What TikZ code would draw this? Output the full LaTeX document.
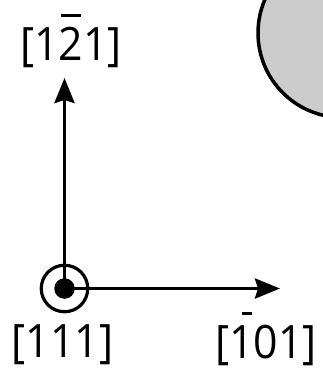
\documentclass[tikz,border=0pt]{standalone}
\usepackage{fontspec}
\setmainfont{Open Sans}
\usetikzlibrary{arrows.meta}
\newcommand{\obar}[3]{{\ooalign{#1\cr\hidewidth\kern#3\kern#3\raisebox{0.93em}{\rule{#2}{0.072em}}\hidewidth\cr}}}
\definecolor{diskgray}{HTML}{CCCCCC}
\tikzset{
  axis/.style={line width=3.6pt, -{Stealth[length=25pt, width=20pt, inset=3pt]}},
  lbl/.style={anchor=base, inner sep=0pt, font=\fontsize{46}{54}\selectfont},
}
\newcommand{\lab}[1]{\scalebox{0.93}[1]{#1}}
\begin{document}
\begin{tikzpicture}[x=1pt,y=-1pt]
\useasboundingbox (0,0) rectangle (323,369);
\clip (0,0) rectangle (323,369);
\node[draw, circle, fill=diskgray, line width=3.5pt, minimum size=169pt, inner sep=0pt] (disk) at (342.5,33) {};
\coordinate (o) at (64.5,288.5);
\coordinate (ytip) at (64.5,78);
\coordinate (xtip) at (280,288.5);
\node[draw, circle, line width=3.2pt, minimum size=46.5pt, inner sep=0pt] (ring) at (o) {};
\draw[axis] (o) -- (ytip);
\draw[axis] (o) -- (xtip);
\node[circle, fill=black, minimum size=20.5pt, inner sep=0pt] (dot) at (o) {};
\node[lbl] (ly) at (70.8,60) {\lab{[1\obar{2}{0.47em}{0em}1]}};
\node[lbl] (lo) at (62.5,357) {\lab{[111]}};
\node[lbl] (lx) at (266,358) {\lab{[\obar{1}{0.235em}{0.13em}01]}};
\end{tikzpicture}
\end{document}
